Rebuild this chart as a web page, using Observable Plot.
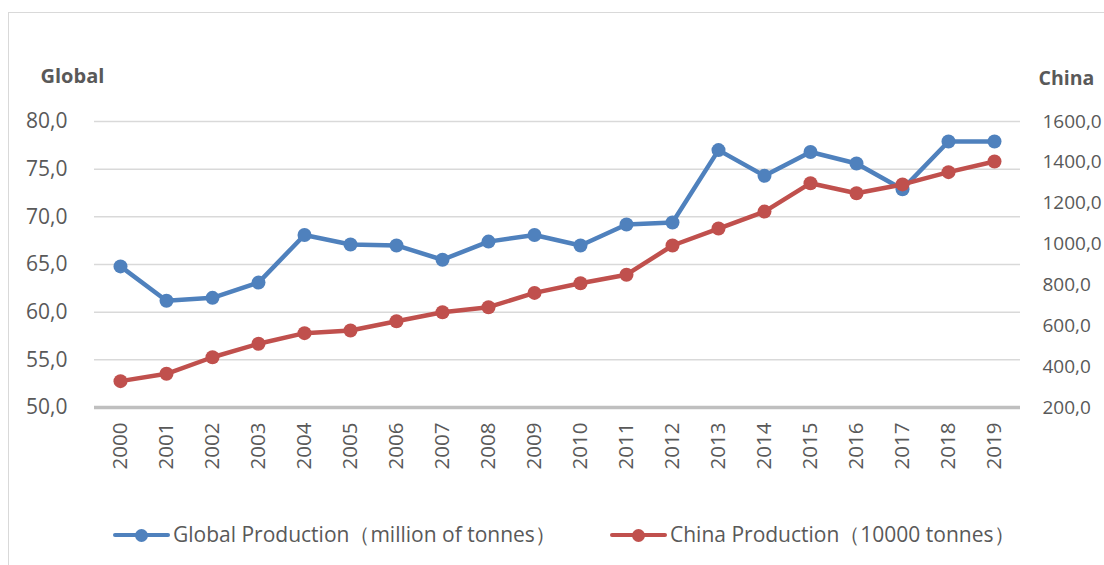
<!DOCTYPE html>
<html>
<head>
<meta charset="utf-8">
<script src="https://cdn.jsdelivr.net/npm/d3@7"></script>
<script src="https://cdn.jsdelivr.net/npm/@observablehq/plot@0.6"></script>
<style>
  html, body { margin: 0; padding: 0; background: #fff; }
  #wrap { position: relative; width: 1104px; height: 565px; overflow: hidden; font-family: "Open Sans", "Noto Sans", sans-serif; }
  #frame { position: absolute; left: 8px; top: 12px; width: 1200px; height: 700px; border-left: 1.5px solid #d9d9d9; border-top: 1.5px solid #d9d9d9; }
  #chart { position: absolute; left: 0; top: 0; }
  #legend { position: absolute; left: 0; top: 500px; width: 1104px; height: 65px; color: #595959; font-size: 21px; }
  .item { position: absolute; top: 20px; display: flex; align-items: center; white-space: nowrap; }
  .swatch { position: relative; width: 57px; height: 28px; margin-right: 3px; }
  .swatch .ln { position: absolute; left: 0; right: 0; top: 12px; height: 4.5px; border-radius: 2px; }
  .swatch .dt { position: absolute; left: 22px; top: 8px; width: 13px; height: 13px; border-radius: 50%; }
</style>
</head>
<body>
<div id="wrap">
  <div id="frame"></div>
  <div id="chart"></div>
  <div id="legend"></div>
</div>
<script>
// ---- data ----
const years = ["2000","2001","2002","2003","2004","2005","2006","2007","2008","2009",
               "2010","2011","2012","2013","2014","2015","2016","2017","2018","2019"];
const globalProd = [64.8, 61.2, 61.5, 63.1, 68.1, 67.1, 67.0, 65.5, 67.4, 68.1,
                    67.0, 69.2, 69.4, 77.0, 74.3, 76.8, 75.6, 72.9, 77.9, 77.9];
const chinaProd  = [329, 365, 446, 512, 564, 577, 622, 666, 691, 761,
                    808, 850, 993, 1076, 1159, 1298, 1249, 1292, 1352, 1404];
const leftTicks  = [50, 55, 60, 65, 70, 75, 80];
const rightTicks = [200, 400, 600, 800, 1000, 1200, 1400, 1600];
const seriesNames = ["Global Production（million of tonnes）", "China Production（10000 tonnes）"];
const colors = ["#4F81BD", "#C0504D"];

// ---- dual axis mapping (China axis 200..1600 onto Global axis 50..80) ----
const leftDomain = [50, 80], rightDomain = [200, 1600];
const toLeft = v => leftDomain[0] + (v - rightDomain[0]) / (rightDomain[1] - rightDomain[0]) * (leftDomain[1] - leftDomain[0]);
const toRight = v => rightDomain[0] + (v - leftDomain[0]) / (leftDomain[1] - leftDomain[0]) * (rightDomain[1] - rightDomain[0]);
const fmt = v => d3.format(".1f")(v).replace(".", ",");

const rows = years.map((y, i) => ({year: y, g: globalProd[i], c: toLeft(chinaProd[i])}));

const textColor = "#595959";
const fs = 21;

const chart = Plot.plot({
  width: 1104,
  height: 500,
  marginTop: 121,
  marginBottom: 93,
  marginLeft: 94,
  marginRight: 84,
  style: {fontFamily: "'Open Sans', 'Noto Sans', sans-serif", color: textColor, background: "transparent", overflow: "visible"},
  x: {type: "point", domain: years, padding: 0.5},
  y: {domain: leftDomain},
  marks: [
    Plot.ruleY(leftTicks.filter(d => d > 50), {stroke: "#d9d9d9", strokeWidth: 1.5}),
    Plot.ruleY([50], {stroke: "#bfbfbf", strokeWidth: 3.5}),
    Plot.axisY({anchor: "left", ticks: leftTicks, tickSize: 0, tickPadding: 27, tickFormat: fmt, fontSize: fs, label: null, fill: textColor}),
    Plot.axisY({anchor: "right", ticks: rightTicks.map(toLeft), tickSize: 0, tickPadding: 22, tickFormat: v => fmt(toRight(v)), fontSize: 19, label: null, fill: textColor, textAnchor: "start"}),
    Plot.axisX({tickRotate: -90, tickSize: 0, tickPadding: 15, fontSize: 20.5, label: null, fill: textColor}),
    Plot.text(["Global"], {frameAnchor: "top-left", dx: -54, dy: -53, textAnchor: "start", fontWeight: "bold", fontSize: 20, fill: textColor}),
    Plot.text(["China"], {frameAnchor: "top-right", dx: 18, dy: -50, textAnchor: "start", fontWeight: "bold", fontSize: 19.5, fill: textColor}),
    Plot.line(rows, {x: "year", y: "g", stroke: colors[0], strokeWidth: 4.5}),
    Plot.dot(rows, {x: "year", y: "g", fill: colors[0], r: 7}),
    Plot.line(rows, {x: "year", y: "c", stroke: colors[1], strokeWidth: 4.5}),
    Plot.dot(rows, {x: "year", y: "c", fill: colors[1], r: 7})
  ]
});
document.getElementById("chart").appendChild(chart);

// ---- legend ----
const legend = document.getElementById("legend");
const lefts = [113, 610];
seriesNames.forEach((name, i) => {
  const item = document.createElement("div");
  item.className = "item";
  item.style.left = lefts[i] + "px";
  item.innerHTML = `<span class="swatch"><span class="ln" style="background:${colors[i]}"></span><span class="dt" style="background:${colors[i]}"></span></span><span>${name}</span>`;
  legend.appendChild(item);
});
</script>
</body>
</html>
